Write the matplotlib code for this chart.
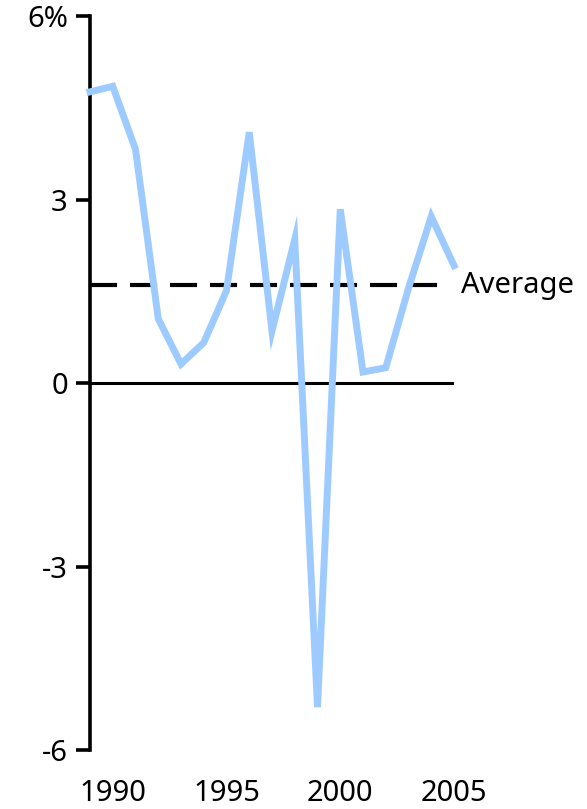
import matplotlib.pyplot as plt

# Дані
years = list(range(1989, 2006))
growth = [4.76, 4.85, 3.82, 1.05, 0.31, 0.66, 1.51, 4.1, 0.85, 2.35,
          -5.3, 2.84, 0.18, 0.25, 1.55, 2.72, 1.92]
average = 1.6
x_ticks = [1990, 1995, 2000, 2005]
y_ticks = [-6, -3, 0, 3, 6]
y_labels = ["-6", "-3", "0", "3", "6%"]

plt.rcParams['font.family'] = ['Noto Sans', 'DejaVu Sans']

fig = plt.figure(figsize=(5.87, 8.09), dpi=100)
ax = fig.add_axes([90 / 587, 59 / 809, 364 / 587, 734 / 809])

ax.plot(years, growth, color="#9ecbff", lw=5, solid_joinstyle="miter",
        clip_on=False, zorder=3)
ax.axhline(0, color="black", lw=2.2, zorder=2)
ax.hlines(average, years[0], years[-1] - 0.3, colors="black", lw=3,
          linestyles=(0, (6.5, 3.1)), zorder=2)
ax.text(years[-1] + 0.3, average, "Average", fontsize=21, va="center",
        ha="left")

ax.set_xlim(years[0], years[-1])
ax.set_ylim(-6, 6)
ax.set_xticks(x_ticks)
ax.set_xticklabels([str(y) for y in x_ticks])
ax.set_yticks(y_ticks)
ax.set_yticklabels(y_labels)

for side in ["top", "right", "bottom"]:
    ax.spines[side].set_visible(False)
ax.spines["left"].set_linewidth(2.6)

ax.tick_params(axis="y", length=10, width=2.6, pad=6, labelsize=21)
ax.tick_params(axis="x", length=0, pad=21, labelsize=21)

fig.savefig("out.png", dpi=100)
